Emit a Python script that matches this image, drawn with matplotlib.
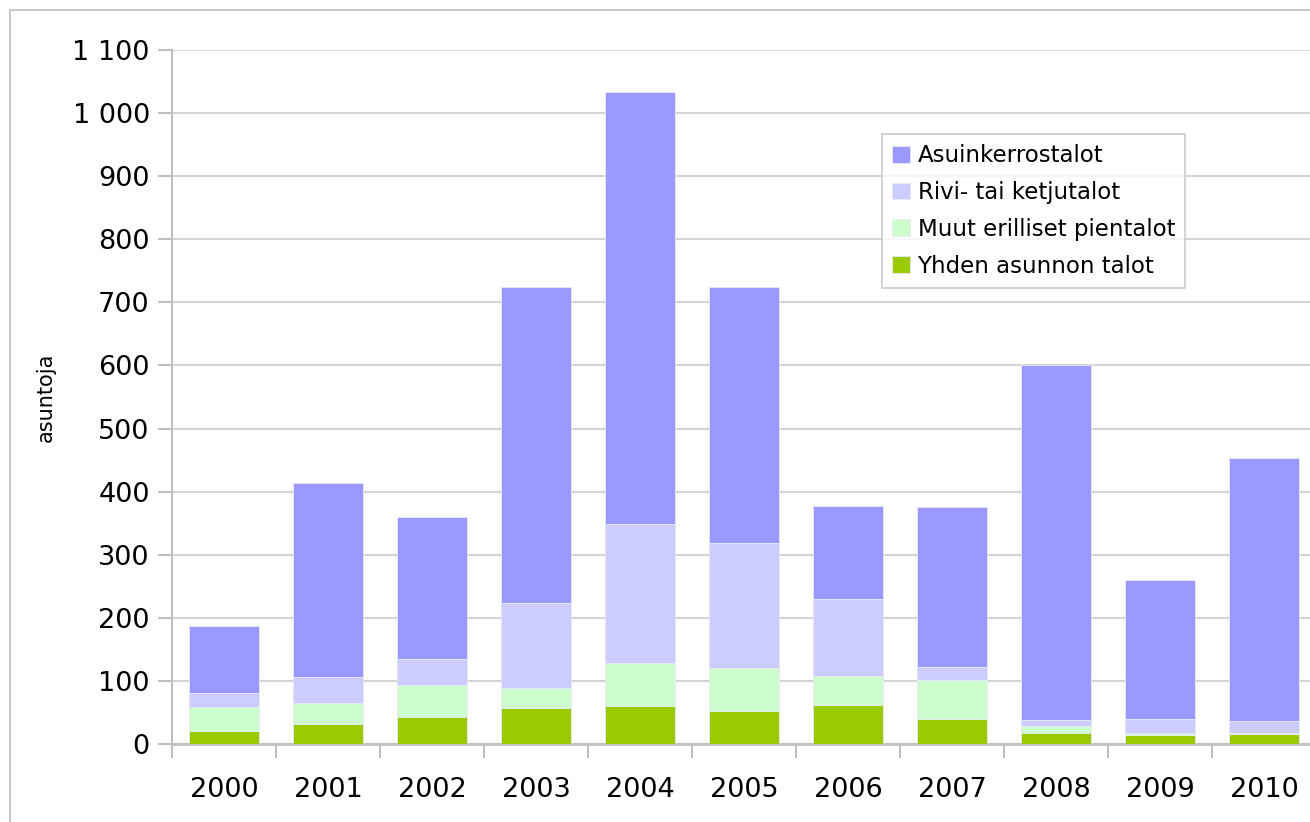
import matplotlib.pyplot as plt
from matplotlib.patches import Rectangle
import numpy as np

# stacked housing completions per year
years = ["2000", "2001", "2002", "2003", "2004", "2005", "2006", "2007", "2008", "2009", "2010"]
yhden = [20, 32, 43, 57, 60, 52, 62, 40, 18, 14, 16]
muut = [38, 33, 51, 32, 69, 69, 45, 61, 10, 3, 1]
rivi = [23, 41, 41, 134, 219, 197, 123, 21, 10, 22, 19]
asuinker = [106, 308, 225, 501, 686, 406, 147, 254, 562, 221, 418]

series = [
    ("Yhden asunnon talot", yhden, "#99cc00"),
    ("Muut erilliset pientalot", muut, "#ccffcc"),
    ("Rivi- tai ketjutalot", rivi, "#ccccff"),
    ("Asuinkerrostalot", asuinker, "#9999ff"),
]

W, H = 1310, 822
fig = plt.figure(figsize=(W / 100, H / 100), dpi=100)
ax = fig.add_axes([172 / W, (H - 744) / H, 1144 / W, 694 / H])

# outer chart border
fig.patches.append(Rectangle((10 / W, -0.1), 1.1, (H - 10) / H + 0.1, transform=fig.transFigure,
                             fill=False, edgecolor="#c0c0c0", linewidth=1.2))

x = np.arange(len(years))
bottom = np.zeros(len(years))
handles = {}
for name, vals, col in series:
    b = ax.bar(x, vals, width=0.68, bottom=bottom, color=col, edgecolor="#e8e8f8",
               linewidth=0.6, label=name, zorder=3)
    handles[name] = b
    bottom += np.array(vals)

ax.set_xlim(-0.5, len(years) - 0.5)
ax.set_ylim(0, 1100)
ax.set_yticks(np.arange(0, 1101, 100))
ax.set_yticklabels([f"{v:,}".replace(",", " ") for v in range(0, 1101, 100)], fontsize=19.5)
ax.yaxis.grid(True, color="#d4d4d4", linewidth=1.5, zorder=0)
ax.set_xticks(x)
ax.set_xticklabels(years, fontsize=19.5)
ax.set_xticks(np.arange(-0.5, len(years), 1), minor=True)
ax.tick_params(axis="x", which="major", length=0, pad=24)
ax.tick_params(axis="x", which="minor", length=10, color="#c0c0c0", width=1.5)
ax.tick_params(axis="y", length=10, color="#c0c0c0", width=1.5, pad=6)
for s in ["top", "right"]:
    ax.spines[s].set_visible(False)
ax.spines["left"].set_color("#c0c0c0")
ax.spines["left"].set_linewidth(1.5)
ax.spines["bottom"].set_color("#c0c0c0")
ax.spines["bottom"].set_linewidth(2)
ax.set_ylabel("asuntoja", fontsize=15, labelpad=12)

order = ["Asuinkerrostalot", "Rivi- tai ketjutalot", "Muut erilliset pientalot", "Yhden asunnon talot"]
leg = ax.legend([handles[n] for n in order], order, loc="upper left",
                bbox_to_anchor=(882 / W, 1 - 134 / H), bbox_transform=fig.transFigure,
                fontsize=16.5, frameon=True, fancybox=False, handlelength=0.75, handleheight=0.75,
                handletextpad=0.35, labelspacing=0.6, borderpad=0.45, borderaxespad=0)
leg.get_frame().set_edgecolor("#c0c0c0")
leg.get_frame().set_linewidth(1.2)

fig.savefig("out.png", dpi=100)
